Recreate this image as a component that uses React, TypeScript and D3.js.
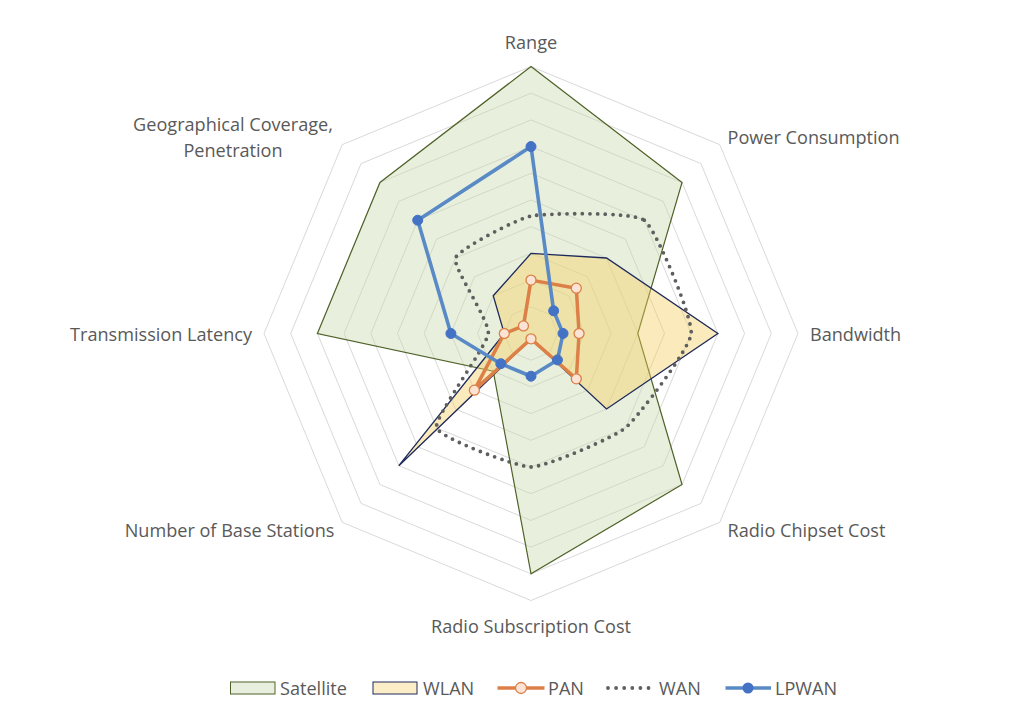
import React from "react";
import * as d3 from "d3";

const axes = [
  "Range",
  "Power Consumption",
  "Bandwidth",
  "Radio Chipset Cost",
  "Radio Subscription Cost",
  "Number of Base Stations",
  "Transmission Latency",
  "Geographical Coverage, Penetration",
];

const satellite = [10, 8, 4, 8, 9, 2, 8, 8];
const wlan = [3, 4, 7, 4, 0.2, 7, 1, 2];
const pan = [2, 2.4, 1.8, 2.4, 0.2, 3, 1, 0.4];
const wan = [4.4, 6, 6, 5, 5, 5, 1.6, 4];
const lpwan = [7, 1.2, 1.2, 1.4, 1.6, 1.6, 3, 6];

const gridLevels = [1, 2, 3, 4, 5, 6, 7, 8, 9, 10];
const legendItems = ["Satellite", "WLAN", "PAN", "WAN", "LPWAN"];

const W = 1024;
const H = 728;
const cx = 531;
const cy = 333.5;
const R = 267;
const FONT = "'Open Sans', sans-serif";
const FS = 18.1;
const TEXT = "#595959";
const LY = 688;

export default function App() {
  const n = axes.length;
  const rScale = d3.scaleLinear().domain([0, 10]).range([0, R]);
  const angle = (i: number) => (i * 2 * Math.PI) / n;

  const radial = (curve: any) =>
    d3
      .lineRadial<number>()
      .angle((_, i) => angle(i))
      .radius((d) => rScale(d))
      .curve(curve);

  const linear = radial(d3.curveLinearClosed);
  const smooth = radial(d3.curveCardinalClosed.tension(0.55));

  const pt = (v: number, i: number) => {
    const a = angle(i) - Math.PI / 2;
    return [rScale(v) * Math.cos(a), rScale(v) * Math.sin(a)];
  };

  const labelPos = (i: number) => {
    const a = angle(i) - Math.PI / 2;
    const cosA = Math.cos(a);
    const sinA = Math.sin(a);
    let rr = R + 12;
    if (i === 0 || i === 4) rr = R + 25;
    if (i % 2 === 1) rr = R + 11;
    const x = rr * cosA;
    const y = rr * sinA;
    let anchor = "middle";
    if (cosA > 0.1) anchor = "start";
    if (cosA < -0.1) anchor = "end";
    return { x, y, anchor };
  };

  return (
    <svg
      width={W}
      height={H}
      style={{ position: "absolute", left: 0, top: 0, background: "#fff" }}
    >
      <rect x={0} y={0} width={W} height={H} fill="#ffffff" />
      <g transform={`translate(${cx},${cy})`}>
        {gridLevels.map((k) => (
          <path
            key={k}
            d={linear(axes.map(() => k)) || ""}
            fill="none"
            stroke="#d9d9d9"
            strokeWidth={1}
          />
        ))}
        <path
          d={linear(satellite) || ""}
          fill="#c9dcae"
          fillOpacity={0.42}
          stroke="#4f6228"
          strokeWidth={1.2}
        />
        <path
          d={linear(wlan) || ""}
          fill="#f5cf60"
          fillOpacity={0.42}
          stroke="#1f2a5c"
          strokeWidth={1.3}
        />
        <path
          d={linear(pan) || ""}
          fill="none"
          stroke="#dc8048"
          strokeWidth={3.5}
          strokeLinejoin="round"
        />
        {pan.map((v, i) => {
          const [x, y] = pt(v, i);
          return (
            <circle
              key={"p" + i}
              cx={x}
              cy={y}
              r={5}
              fill="#fbe4d5"
              stroke="#dc8048"
              strokeWidth={1.3}
            />
          );
        })}
        <path
          d={smooth(wan) || ""}
          fill="none"
          stroke="#5f5f5f"
          strokeWidth={3.8}
          strokeDasharray="0 7.6"
          strokeLinecap="round"
        />
        <path
          d={linear(lpwan) || ""}
          fill="none"
          stroke="#5a8ac6"
          strokeWidth={3.6}
          strokeLinejoin="round"
        />
        {lpwan.map((v, i) => {
          const [x, y] = pt(v, i);
          return (
            <circle key={"l" + i} cx={x} cy={y} r={5} fill="#4472c4" stroke="#4472c4" strokeWidth={1} />
          );
        })}
        {axes.map((name, i) => {
          const p = labelPos(i);
          if (i === 7) {
            return (
              <text
                key={name}
                fill={TEXT}
                fontFamily={FONT}
                fontSize={FS}
                textAnchor="middle"
              >
                <tspan x={233 - cx} y={124 - cy} dominantBaseline="central">
                  Geographical Coverage,
                </tspan>
                <tspan x={233 - cx} y={150 - cy} dominantBaseline="central">
                  Penetration
                </tspan>
              </text>
            );
          }
          return (
            <text
              key={name}
              x={p.x}
              y={p.y}
              fill={TEXT}
              fontFamily={FONT}
              fontSize={FS}
              textAnchor={p.anchor}
              dominantBaseline="central"
            >
              {name}
            </text>
          );
        })}
      </g>
      <g fontFamily={FONT} fontSize={FS} fill={TEXT}>
        <rect x={230.5} y={LY - 6} width={44.5} height={12} fill="#e9efdf" stroke="#4f6228" strokeWidth={1} />
        <text x={280} y={LY} dominantBaseline="central">{legendItems[0]}</text>

        <rect x={373} y={LY - 6} width={44} height={12} fill="#fcefc8" stroke="#1f2a5c" strokeWidth={1} />
        <text x={423} y={LY} dominantBaseline="central">{legendItems[1]}</text>

        <line x1={497.5} x2={544.5} y1={LY} y2={LY} stroke="#dc8048" strokeWidth={3.5} />
        <circle cx={521} cy={LY} r={5.5} fill="#fbe4d5" stroke="#dc8048" strokeWidth={1.3} />
        <text x={548} y={LY} dominantBaseline="central">{legendItems[2]}</text>

        <line x1={608} x2={650} y1={LY} y2={LY} stroke="#5f5f5f" strokeWidth={3.8} strokeDasharray="0 8.1" strokeLinecap="round" />
        <text x={659} y={LY} dominantBaseline="central">{legendItems[3]}</text>

        <line x1={725.5} x2={771} y1={LY} y2={LY} stroke="#5a8ac6" strokeWidth={3.6} />
        <circle cx={748} cy={LY} r={5.5} fill="#4472c4" />
        <text x={775} y={LY} dominantBaseline="central">{legendItems[4]}</text>
      </g>
    </svg>
  );
}
